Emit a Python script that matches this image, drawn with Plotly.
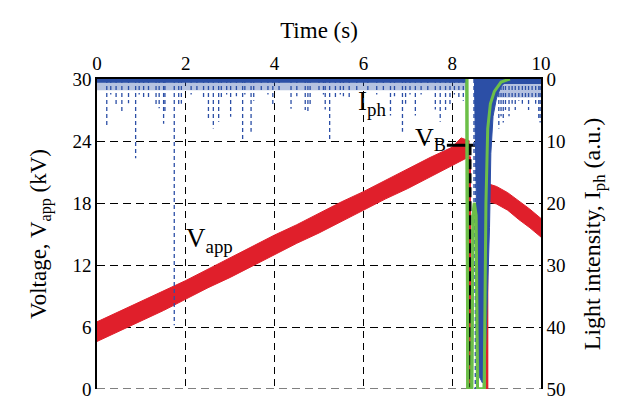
import plotly.graph_objects as go

# ---------------- data ----------------
# Applied voltage band before breakdown (kV)
v_t      = [0, 0.5, 1.0, 1.5, 2.0, 2.5, 3.0, 3.5, 4.0, 4.5, 5.0, 5.5, 6.0, 6.5, 7.0, 7.5, 8.0, 8.2, 8.39]
v_upper  = [6.5, 7.5, 8.5, 9.5, 10.5, 11.6, 12.7, 13.8, 14.9, 15.9, 17.0, 18.1, 19.1, 20.2, 21.3, 22.4, 23.4, 24.3, 24.0]
v_lower  = [4.6, 5.6, 6.6, 7.6, 8.7, 9.8, 10.8, 11.9, 13.0, 14.1, 15.1, 16.2, 17.3, 18.4, 19.4, 20.5, 21.6, 22.1, 22.5]
# Applied voltage band after breakdown (kV)
v2_t     = [8.78, 9.0, 9.25, 9.5, 9.75, 10.0]
v2_upper = [19.9, 19.6, 19.0, 18.2, 17.4, 16.5]
v2_lower = [18.2, 17.9, 17.3, 16.4, 15.6, 14.7]
v_break_t = [8.39, 8.78]           # voltage collapse / recovery times (s)

# Breakdown voltage marker
vb_value = 23.6
vb_h_t   = [7.88, 8.86]
vb_v_t   = 8.39

# Light intensity: baseline fuzz (a.u.) -- dense core and lighter outer fringe
fuzz1_t = [0, 8.32]
fuzz1_core = [0.6, 0.6]
fuzz1_outer = [1.8, 1.8]
fuzz2_t = [8.95, 10]
fuzz2_core = [0.8, 0.8]
fuzz2_outer = [3.0, 3.0]
# Light intensity: individual spikes (time s, depth a.u.)
spike_t = [0.22, 0.31, 0.43, 0.56, 0.71, 0.87, 0.95, 1.05, 1.16, 1.33, 1.40, 1.50, 1.53, 1.74, 1.84, 1.90,
           2.12, 2.25, 2.40, 2.51, 2.62, 2.74, 2.80, 2.92, 3.01, 3.14, 3.28, 3.33, 3.47, 3.53, 3.70, 3.85,
           3.96, 4.10, 4.37, 4.50, 4.69, 4.75, 4.80, 5.00, 5.10, 5.14, 5.24, 5.37, 5.48, 5.55, 5.68, 5.85,
           6.10, 6.30, 6.45, 6.61, 6.70, 6.88, 6.95, 7.05, 7.17, 7.30, 7.45, 7.62, 7.73, 7.85, 7.95, 8.05,
           8.15, 8.25, 8.49, 8.52,
           9.05, 9.10, 9.15, 9.20, 9.28, 9.35, 9.42, 9.50, 9.58, 9.65, 9.72, 9.80, 9.88, 9.95, 9.98]
spike_d = [7.7, 2.5, 4.2, 5.3, 3.9, 12.8, 2.5, 3.0, 3.0, 4.5, 4.7, 7.2, 5.6, 39.7, 4.5, 4.0,
           2.5, 2.0, 3.0, 6.4, 8.0, 6.9, 3.0, 2.5, 6.1, 2.8, 9.7, 2.5, 8.5, 3.5, 2.0, 2.5,
           4.2, 2.0, 4.8, 2.8, 5.0, 5.4, 4.5, 2.0, 2.5, 4.9, 9.7, 3.0, 2.5, 2.8, 3.0, 2.0,
           2.0, 2.5, 2.2, 5.9, 2.8, 8.5, 4.0, 2.5, 5.9, 2.5, 2.0, 4.9, 6.9, 5.0, 4.5, 2.5,
           3.0, 3.5, 35.0, 50.0,
           8.0, 6.0, 7.0, 5.0, 6.0, 4.0, 5.0, 3.5, 4.0, 3.0, 5.0, 3.0, 4.0, 6.5, 7.0]
# Light intensity: main discharge burst outline
dip_t = [8.50, 8.53, 8.57, 8.61, 8.68, 8.73, 8.78, 8.84, 8.87, 8.92, 9.00, 9.10, 9.20, 9.30]
dip_d = [0, 15, 35, 48, 49, 47, 38, 24, 12, 6, 3, 1.2, 0.5, 0]

# Second photodetector trace (green)
g_t = [0, 8.33, 8.35, 8.44, 8.47, 8.50, 8.54, 8.57, 8.72, 8.76, 8.80, 8.86, 8.95, 9.10, 9.30, 10]
g_d = [0, 0, 50, 50, 22, 20, 22, 50, 50, 20, 8, 4, 2, 0.5, 0, 0]

x_ticks  = [0, 2, 4, 6, 8, 10]
yl_ticks = [0, 6, 12, 18, 24, 30]
yr_ticks = [0, 10, 20, 30, 40, 50]

RED = "#e01f2b"
BLUE = "#2c4fa6"
BLUE_LIGHT = "rgba(44,79,166,0.35)"
GREEN = "#6cbf48"
FONT = "Liberation Serif, Times New Roman, serif"

fig = go.Figure()

# red voltage band before breakdown
fig.add_trace(go.Scatter(x=v_t, y=v_lower, mode="lines", line=dict(color=RED, width=1),
                         showlegend=False, hoverinfo="skip"))
fig.add_trace(go.Scatter(x=v_t, y=v_upper, mode="lines", line=dict(color=RED, width=1),
                         fill="tonexty", fillcolor=RED, showlegend=False, hoverinfo="skip"))
# red band after breakdown
fig.add_trace(go.Scatter(x=v2_t, y=v2_lower, mode="lines", line=dict(color=RED, width=1),
                         showlegend=False, hoverinfo="skip"))
fig.add_trace(go.Scatter(x=v2_t, y=v2_upper, mode="lines", line=dict(color=RED, width=1),
                         fill="tonexty", fillcolor=RED, showlegend=False, hoverinfo="skip"))
# voltage collapse and recovery
fig.add_trace(go.Scatter(x=[v_break_t[0], v_break_t[0], None, v_break_t[1], v_break_t[1]],
                         y=[v_lower[-1], 0, None, 0, v2_lower[0]],
                         mode="lines", line=dict(color=RED, width=3),
                         showlegend=False, hoverinfo="skip"))

# green baseline (underneath blue)
fig.add_trace(go.Scatter(x=g_t, y=g_d, yaxis="y2", mode="lines", line=dict(color=GREEN, width=3),
                         showlegend=False, hoverinfo="skip"))

# blue fuzz: lighter outer fringe then dense core
for ft, fd, fc in ((fuzz1_t, fuzz1_outer, BLUE_LIGHT), (fuzz2_t, fuzz2_outer, BLUE_LIGHT),
                   (fuzz1_t, fuzz1_core, BLUE), (fuzz2_t, fuzz2_core, BLUE)):
    fig.add_trace(go.Scatter(x=ft, y=fd, yaxis="y2", mode="lines", line=dict(color=fc, width=0),
                             fill="tozeroy", fillcolor=fc, showlegend=False, hoverinfo="skip"))
# blue spikes
sx, sy = [], []
for t, d in zip(spike_t, spike_d):
    sx += [t, t, None]
    sy += [0, d, None]
fig.add_trace(go.Scatter(x=sx, y=sy, yaxis="y2", mode="lines",
                         line=dict(color=BLUE, width=1.3, dash="4px,3px"),
                         showlegend=False, hoverinfo="skip"))
# blue discharge burst
fig.add_trace(go.Scatter(x=dip_t, y=dip_d, yaxis="y2", mode="lines", line=dict(color=BLUE, width=1),
                         fill="toself", fillcolor=BLUE, showlegend=False, hoverinfo="skip"))

# green discharge part on top
i0 = 1
i1 = len(g_t) - 1
fig.add_trace(go.Scatter(x=g_t[i0:i1], y=g_d[i0:i1], yaxis="y2", mode="lines",
                         line=dict(color=GREEN, width=3), showlegend=False, hoverinfo="skip"))

# V_B markers
fig.add_trace(go.Scatter(x=vb_h_t, y=[vb_value, vb_value], mode="lines", line=dict(color="black", width=3),
                         showlegend=False, hoverinfo="skip"))
fig.add_trace(go.Scatter(x=[vb_v_t, vb_v_t], y=[vb_value, 0], mode="lines",
                         line=dict(color="black", width=4, dash="10px,4px"),
                         showlegend=False, hoverinfo="skip"))

# text labels
fig.add_annotation(x=5.84, y=27.7, xref="x", yref="y", text="I<sub>ph</sub>", showarrow=False,
                   xanchor="left", yanchor="middle", font=dict(family=FONT, size=27, color="black"))
fig.add_annotation(x=1.95, y=14.4, xref="x", yref="y", text="V<sub>app</sub>", showarrow=False,
                   xanchor="left", yanchor="middle", font=dict(family=FONT, size=27, color="black"))
fig.add_annotation(x=7.12, y=24.2, xref="x", yref="y", text="V<sub>B</sub>", showarrow=False,
                   xanchor="left", yanchor="middle", font=dict(family=FONT, size=26, color="black"))

# dashed bottom border (grid line at zero)
fig.add_shape(type="line", xref="paper", yref="y", x0=0, x1=1, y0=0, y1=0,
              line=dict(color="black", width=1, dash="8px,5px"), layer="below")

grid_h = "8px,5px"
grid_v = "7px,5px"
fig.update_layout(
    width=625, height=398,
    margin=dict(l=97, r=84, t=79, b=9, autoexpand=False),
    paper_bgcolor="white", plot_bgcolor="white",
    font=dict(family=FONT, size=19, color="black"),
    showlegend=False,
    xaxis=dict(range=[0, 10], side="top", tickvals=x_ticks, ticks="", showline=True,
               linecolor="black", linewidth=1.5, showgrid=True, gridcolor="black", gridwidth=1,
               griddash=grid_v, zeroline=False, tickfont=dict(family=FONT, size=19),
               ticklabeloverflow="allow", automargin=False,
               title=dict(text="Time (s)", font=dict(family=FONT, size=23), standoff=8)),
    yaxis=dict(range=[0, 30], tickvals=yl_ticks, ticks="", showline=True, linecolor="black",
               linewidth=1.5, showgrid=True, gridcolor="black", gridwidth=1, griddash=grid_h,
               zeroline=False, tickfont=dict(family=FONT, size=19), ticklabeloverflow="allow",
               automargin=False,
               title=dict(text="Voltage, V<sub>app</sub> (kV)", font=dict(family=FONT, size=23),
                          standoff=19)),
    yaxis2=dict(range=[50, 0], overlaying="y", side="right", tickvals=yr_ticks, ticks="",
                showline=True, linecolor="black", linewidth=1.5, showgrid=False, zeroline=False,
                tickfont=dict(family=FONT, size=19), ticklabeloverflow="allow", automargin=False,
                title=dict(text="Light intensity, I<sub>ph</sub> (a.u.)", font=dict(family=FONT, size=24),
                           standoff=19)),
)

fig.write_html("out.html")
